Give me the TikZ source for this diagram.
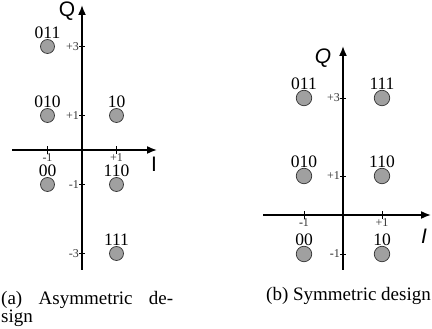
\documentclass[tikz,border=0pt]{standalone}
\usepackage{fontspec}
\setmainfont{Liberation Serif}
\setsansfont{Liberation Sans}
\definecolor{DotGray}{HTML}{A0A0A0}
\usetikzlibrary{positioning,arrows.meta}

\begin{document}
\begin{tikzpicture}[
  x=1pt, y=1pt,
  axis/.style={-{Latex[length=10pt,width=8pt]}, line width=1.6pt},
  tick/.style={line width=0.8pt},
  cpt/.style={
    circle,
    draw=black!80,
    line width=0.7pt,
    fill=DotGray,
    minimum size=14pt,
    inner sep=0pt
  },
  bits/.style={font=\fontsize{17.5}{17.5}\selectfont, inner sep=0pt},
  ticklbl/.style={font=\fontsize{12}{12}\selectfont, inner sep=0pt, text=black!80},
  axlbl/.style={font=\fontsize{21}{21}\selectfont\sffamily, inner sep=0pt},
  capt/.style={font=\fontsize{19}{19}\selectfont, inner sep=0pt, anchor=base west}
]
\useasboundingbox (0,0) rectangle (432,329);

% (a) asymmetric
\begin{scope}[shift={(82pt,179pt)}, x=34.5pt, y=34.5pt]
  \coordinate (iaL) at (-70pt,0);
  \coordinate (iaR) at (75pt,0);
  \coordinate (qaB) at (0,-120pt);
  \coordinate (qaT) at (0,145pt);
  \draw[axis] (iaL) -- (iaR);
  \draw[axis] (qaB) -- (qaT);
  \foreach \v/\t in {-1/-1,1/+1}{
    \draw[tick] (\v,0) ++(0,-4pt) -- ++(0,8pt);
    \node[ticklbl, below=3pt] at (\v,0) {\t};
  }
  \foreach \v/\t in {3/+3,1/+1,-1/-1,-3/-3}{
    \draw[tick] (0,\v) ++(-3pt,0) -- ++(6pt,0);
    \node[ticklbl, left=3pt] at (0,\v) {\t};
  }
  \node[axlbl] (qa) at (-15pt,139pt) {Q};
  \node[axlbl] (ia) at (72pt,-14pt) {I};

  \node[cpt, label={[bits]above:011}] (a011) at (-1,3) {};
  \node[cpt, label={[bits]above:010}] (a010) at (-1,1) {};
  \node[cpt, label={[bits]above:10}] (a10) at (1,1) {};
  \node[cpt, label={[bits]above:00}] (a00) at (-1,-1) {};
  \node[cpt, label={[bits]above:110}] (a110) at (1,-1) {};
  \node[cpt, label={[bits]above:111}] (a111) at (1,-3) {};
\end{scope}

% (b) symmetric
\begin{scope}[shift={(343pt,114pt)}, x=39pt, y=39pt, cpt/.append style={minimum size=15.5pt}]
  \coordinate (ibL) at (-80pt,0);
  \coordinate (ibR) at (88pt,0);
  \coordinate (qbB) at (0,-55pt);
  \coordinate (qbT) at (0,169pt);
  \draw[axis] (ibL) -- (ibR);
  \draw[axis] (qbB) -- (qbT);
  \foreach \v/\t in {-1/{\bfseries-}1,1/+1}{
    \draw[tick] (\v,0) ++(0,-4pt) -- ++(0,8pt);
    \node[ticklbl, below=3pt] at (\v,0) {\t};
  }
  \foreach \v/\t in {3/+3,1/+1,-1/{\bfseries-}1}{
    \draw[tick] (0,\v) ++(-3pt,0) -- ++(6pt,0);
    \node[ticklbl, left=3pt] at (0,\v) {\t};
  }
  \node[axlbl, font=\fontsize{21}{21}\selectfont\sffamily\itshape] (qb) at (-20pt,157pt) {Q};
  \node[axlbl, font=\fontsize{21}{21}\selectfont\sffamily\itshape] (ib) at (81pt,-21pt) {I};

  \node[cpt, label={[bits]above:011}] (b011) at (-1,3) {};
  \node[cpt, label={[bits]above:111}] (b111) at (1,3) {};
  \node[cpt, label={[bits]above:010}] (b010) at (-1,1) {};
  \node[cpt, label={[bits]above:110}] (b110) at (1,1) {};
  \node[cpt, label={[bits]above:00}] (b00) at (-1,-1) {};
  \node[cpt, label={[bits]above:10}] (b10) at (1,-1) {};
\end{scope}

% captions
\node[capt] (capa) at (1,24) {\makebox[172pt][s]{(a) Asymmetric de-}};
\node[capt] (capa2) at (1,6) {sign};
\node[capt] (capb) at (266,28) {(b) Symmetric design};

\end{tikzpicture}
\end{document}
